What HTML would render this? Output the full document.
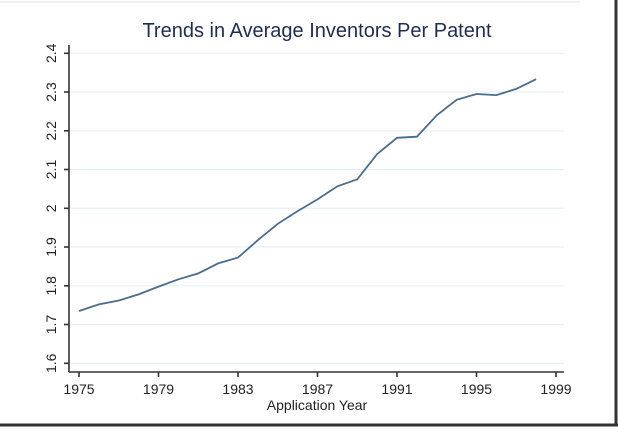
<!DOCTYPE html>
<html><head><style>body{margin:0;background:#fff}</style></head><body>
<svg width="618" height="428" xmlns="http://www.w3.org/2000/svg" font-family="Liberation Sans, sans-serif">
<rect width="618" height="428" fill="#fff"/>
<line x1="0" y1="2" x2="580" y2="2" stroke="#eef2f4" stroke-width="2"/>
<line x1="616" y1="0" x2="616" y2="426" stroke="#333" stroke-width="3"/>
<line x1="0" y1="425" x2="618" y2="425" stroke="#333" stroke-width="3"/>
<text x="317" y="37" font-size="20" fill="#1e2d50" text-anchor="middle">Trends in Average Inventors Per Patent</text>
<g stroke="#e6f0f3" stroke-width="1.2">
<line x1="70" x2="564" y1="53.3" y2="53.3"/><line x1="70" x2="564" y1="92" y2="92"/>
<line x1="70" x2="564" y1="130.8" y2="130.8"/><line x1="70" x2="564" y1="169.5" y2="169.5"/>
<line x1="70" x2="564" y1="208.3" y2="208.3"/><line x1="70" x2="564" y1="247" y2="247"/>
<line x1="70" x2="564" y1="285.8" y2="285.8"/><line x1="70" x2="564" y1="324.5" y2="324.5"/>
<line x1="70" x2="564" y1="363.3" y2="363.3"/>
</g>
<g stroke="#333" stroke-width="1.6">
<line x1="69" y1="45" x2="69" y2="372"/><line x1="69" y1="372" x2="564" y2="372"/>
<line x1="64" x2="69" y1="53.3" y2="53.3"/><line x1="64" x2="69" y1="92" y2="92"/>
<line x1="64" x2="69" y1="130.8" y2="130.8"/><line x1="64" x2="69" y1="169.5" y2="169.5"/>
<line x1="64" x2="69" y1="208.3" y2="208.3"/><line x1="64" x2="69" y1="247" y2="247"/>
<line x1="64" x2="69" y1="285.8" y2="285.8"/><line x1="64" x2="69" y1="324.5" y2="324.5"/>
<line x1="64" x2="69" y1="363.3" y2="363.3"/>
<line x1="79" x2="79" y1="372" y2="377"/><line x1="158.5" x2="158.5" y1="372" y2="377"/>
<line x1="238" x2="238" y1="372" y2="377"/><line x1="317.5" x2="317.5" y1="372" y2="377"/>
<line x1="397" x2="397" y1="372" y2="377"/><line x1="476.5" x2="476.5" y1="372" y2="377"/>
<line x1="556" x2="556" y1="372" y2="377"/>
</g>
<g font-size="14" fill="#222" text-anchor="middle">
<text transform="translate(56,53.3) rotate(-90)">2.4</text>
<text transform="translate(56,92) rotate(-90)">2.3</text>
<text transform="translate(56,130.8) rotate(-90)">2.2</text>
<text transform="translate(56,169.5) rotate(-90)">2.1</text>
<text transform="translate(56,208.3) rotate(-90)">2</text>
<text transform="translate(56,247) rotate(-90)">1.9</text>
<text transform="translate(56,285.8) rotate(-90)">1.8</text>
<text transform="translate(56,324.5) rotate(-90)">1.7</text>
<text transform="translate(56,363.3) rotate(-90)">1.6</text>
<text x="79" y="394">1975</text><text x="158.5" y="394">1979</text><text x="238" y="394">1983</text>
<text x="317.5" y="394">1987</text><text x="397" y="394">1991</text><text x="476.5" y="394">1995</text>
<text x="556" y="394">1999</text>
<text x="317" y="410">Application Year</text>
</g>
<polyline fill="none" stroke="#4d6b8a" stroke-width="1.8" points="79,311 98.9,304.4 118.8,300.5 138.6,294.4 158.5,286.6 178.4,279.3 198.3,273.4 218.1,263.4 238,257.6 257.9,240.1 277.8,223.8 297.6,211.1 317.5,199.4 337.4,186.3 357.3,179.3 377.1,154.1 397,137.8 416.9,136.7 436.8,115.3 456.6,99.8 476.5,94 496.4,95.1 516.3,88.9 536.1,79.2"/>
</svg>
</body></html>
